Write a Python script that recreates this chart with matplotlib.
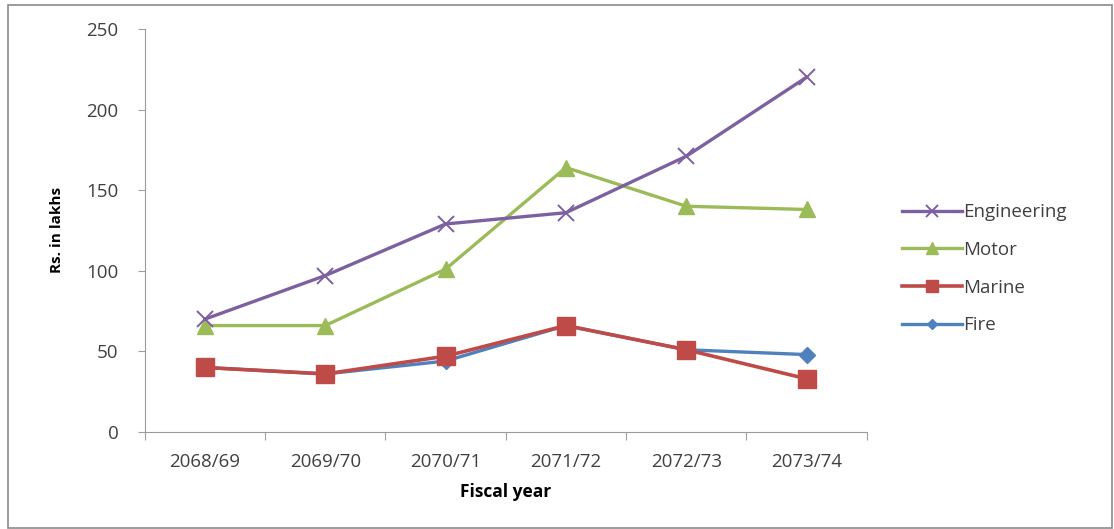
import matplotlib.pyplot as plt
from matplotlib.patches import Rectangle

years = ['2068/69', '2069/70', '2070/71', '2071/72', '2072/73', '2073/74']
engineering = [70, 97, 129, 136, 171, 220]
motor = [66, 66, 101, 164, 140, 138]
marine = [40, 36, 47, 66, 51, 33]
fire = [40, 36, 44, 66, 51, 48]

plt.rcParams['font.family'] = ['Open Sans', 'DejaVu Sans']

fig = plt.figure(figsize=(11.14, 5.29), dpi=100)
ax = fig.add_axes([0.130, 0.1834, 0.648, 0.762])

x = list(range(len(years)))
ax.plot(x, fire, color='#4F81BD', lw=2.4, marker='D', ms=8, label='Fire', zorder=2)
ax.plot(x, marine, color='#BE4B48', lw=2.6, marker='s', ms=13, label='Marine', zorder=3)
ax.plot(x, motor, color='#9BBB59', lw=2.4, marker='^', ms=12, label='Motor', zorder=4)
ax.plot(x, engineering, color='#7D60A0', lw=2.4, marker='x', ms=12, mew=1.4,
        label='Engineering', zorder=5)

ax.set_xlim(-0.5, len(years) - 0.5)
ax.set_ylim(0, 250)
ax.set_yticks(range(0, 251, 50))

# category labels centred, tick marks between categories
ax.set_xticks([i - 0.5 for i in range(len(years) + 1)])
ax.set_xticklabels([])
ax.set_xticks(x, minor=True)
ax.set_xticklabels(years, minor=True, fontsize=13.5, color='#404040')
ax.tick_params(axis='x', which='minor', length=0, pad=15)
ax.tick_params(axis='x', which='major', length=6, color='#A0A0A0')
ax.tick_params(axis='y', labelsize=13.5, labelcolor='#404040', length=5,
               color='#A0A0A0', pad=14)

for side in ['top', 'right']:
    ax.spines[side].set_visible(False)
for side in ['left', 'bottom']:
    ax.spines[side].set_color('#9A9A9A')

ax.set_xlabel('Fiscal year', fontsize=12.5, fontweight='bold', labelpad=9)
ax.set_ylabel('Rs. in lakhs', fontsize=11, fontweight='bold', labelpad=16)

handles, labels = ax.get_legend_handles_labels()
leg = ax.legend(handles[::-1], labels[::-1], loc='center left',
                bbox_to_anchor=(1.025, 0.405), frameon=False, fontsize=13.5,
                handlelength=3.2, handletextpad=0.1, labelspacing=1.05,
                markerscale=0.7)
for t in leg.get_texts():
    t.set_color('#404040')

fig.patches.append(Rectangle((8 / 1114, 1 / 529), 1104 / 1114, 523 / 529,
                             transform=fig.transFigure, fill=False,
                             edgecolor='#8A8A8A', lw=1.2))

fig.savefig('out.png', dpi=100)
